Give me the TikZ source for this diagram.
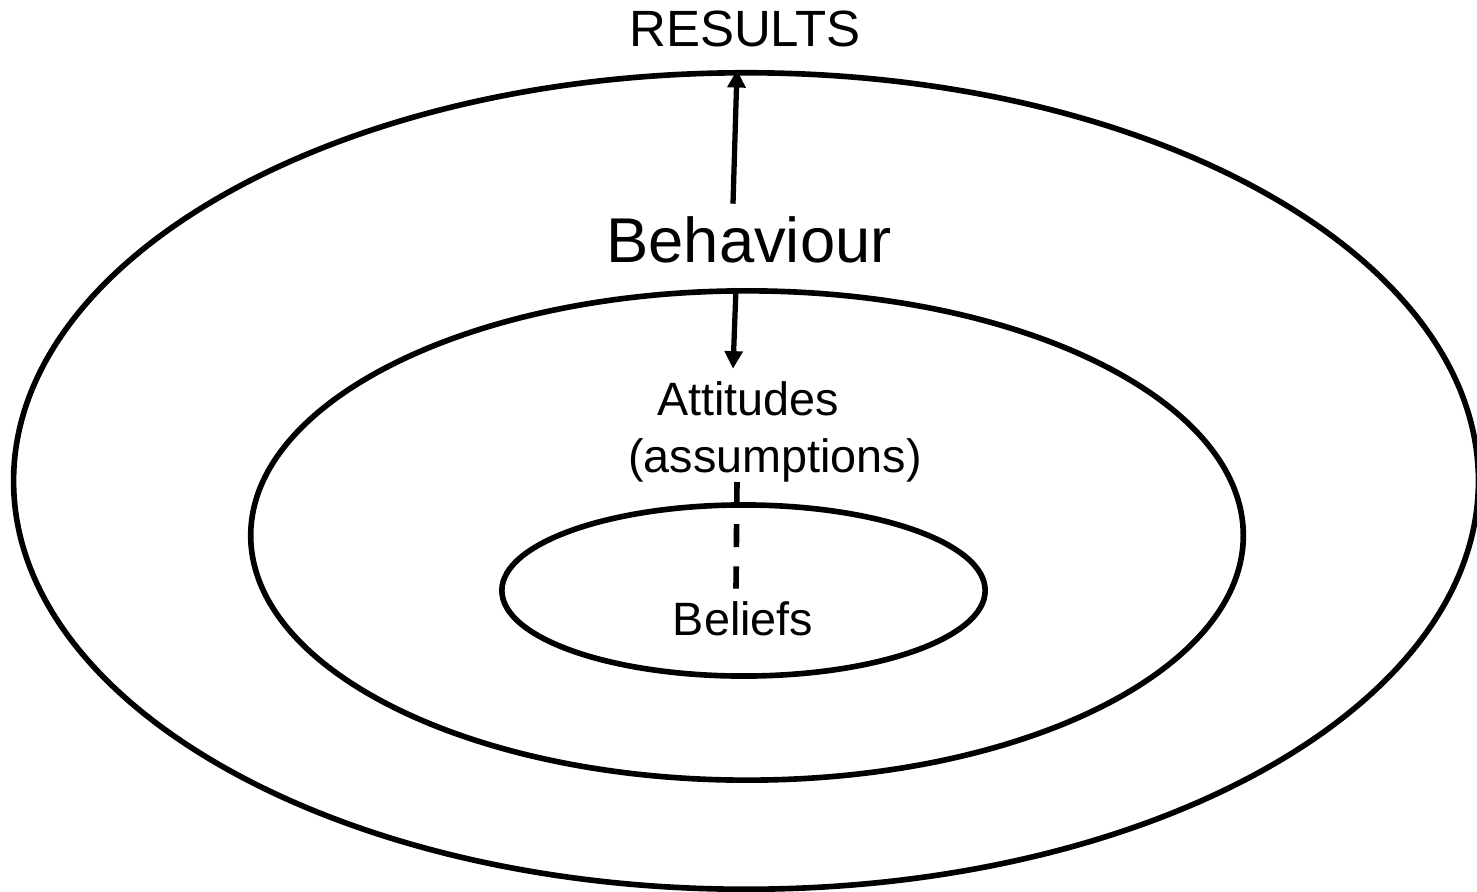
\documentclass[tikz,border=0pt]{standalone}
\usepackage{fontspec}
\setmainfont{Liberation Sans}
\usepackage{tikz}
\usetikzlibrary{arrows.meta,positioning,calc,shapes.geometric}

\begin{document}
\begin{tikzpicture}[
  x=0.01cm, y=-0.01cm,
  ring/.style={ellipse, draw, line width=1.6pt, inner sep=0pt},
  label/.style={anchor=base, inner sep=0.3333em},
  arrow/.style={-{Triangle[length=5pt,width=5pt]}, line width=1.5pt},
]
  \useasboundingbox (0,0) rectangle (1477,891);

  % Rings
  \node[ring, minimum width=14.64cm, minimum height=8.16cm] (outer)  at (746,481) {};
  \node[ring, minimum width=9.92cm,  minimum height=4.89cm] (middle) at (747,535.5) {};
  \node[ring, minimum width=4.83cm,  minimum height=1.71cm] (inner)  at (743.5,590.5) {};

  % Labels
  \node[label, font=\fontsize{14.5pt}{17pt}\selectfont] (results)     at (745,47)  {RESULTS};
  \node[label, font=\fontsize{18pt}{21pt}\selectfont]   (behaviour)   at (749,262) {Behaviour};
  \node[label, font=\fontsize{13.3pt}{16pt}\selectfont] (attitudes)   at (748,415) {Attitudes};
  \node[label, font=\fontsize{13.3pt}{16pt}\selectfont] (assumptions) at (775,472) {(assumptions)};
  \node[label, font=\fontsize{13.3pt}{16pt}\selectfont] (beliefs)     at (743,635) {Beliefs};

  % Connectors
  \draw[arrow] ([xshift=-0.16cm]behaviour.north) -- ([xshift=-0.09cm]outer.north);
  \draw[arrow] ([xshift=-0.11cm]middle.north) -- ([xshift=-0.15cm]attitudes.north);
  \draw[line width=1.6pt, dash pattern=on 6.5pt off 5.5pt]
    ([xshift=-0.38cm, yshift=-0.1cm]assumptions.base) -- ([xshift=-0.07cm]beliefs.north);
\end{tikzpicture}
\end{document}
